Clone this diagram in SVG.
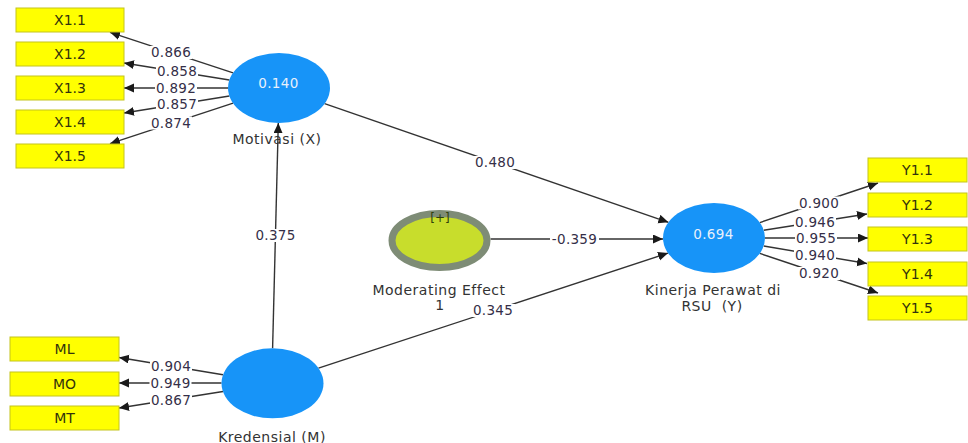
<svg xmlns="http://www.w3.org/2000/svg" width="968" height="443" viewBox="0 0 968 443">
<defs>
<marker id="ah" markerUnits="userSpaceOnUse" markerWidth="11" markerHeight="10" refX="10" refY="4.5" orient="auto">
<path d="M0,0 L10,4.5 L0,9 z" fill="#1a1a1a"/>
</marker>
<style>
.ln{stroke:#333333;stroke-width:1.4;fill:none;marker-end:url(#ah)}
.bx{fill:#ffff00;stroke:#c4c41c;stroke-width:1}
.bt{font-family:"DejaVu Sans",sans-serif;font-size:14px;fill:#33330c;text-anchor:middle}
.lv{fill:#1794f8}
.vt{font-family:"DejaVu Sans",sans-serif;font-size:13.5px;fill:#e8f0fb;text-anchor:middle;letter-spacing:0.4px}
.lb{font-family:"DejaVu Sans",sans-serif;font-size:14px;fill:#333333;text-anchor:middle;letter-spacing:0.5px}
.nb{fill:#ffffff}
.nt{font-family:"DejaVu Sans",sans-serif;font-size:13.5px;fill:#352f48;text-anchor:middle;letter-spacing:0.3px}
</style>
</defs>
<rect x="0" y="0" width="968" height="443" fill="#ffffff"/>

<g id="connectors">
<line class="ln" x1="233.1" y1="72.8" x2="110" y2="32.3"/>
<line class="ln" x1="229.4" y1="80" x2="124" y2="63"/>
<line class="ln" x1="228" y1="88" x2="124" y2="88"/>
<line class="ln" x1="229.4" y1="96" x2="124" y2="113"/>
<line class="ln" x1="233.1" y1="103.2" x2="110" y2="143.7"/>
<line class="ln" x1="759.8" y1="222.6" x2="878" y2="183"/>
<line class="ln" x1="763.7" y1="230.2" x2="867" y2="214"/>
<line class="ln" x1="765" y1="238" x2="868" y2="238"/>
<line class="ln" x1="763.7" y1="246" x2="867" y2="263.5"/>
<line class="ln" x1="759.8" y1="253.4" x2="878" y2="293"/>
<line class="ln" x1="223" y1="374.8" x2="119" y2="357.5"/>
<line class="ln" x1="221.5" y1="383" x2="119" y2="383"/>
<line class="ln" x1="223" y1="391.5" x2="119" y2="408"/>
<line class="ln" x1="324.6" y1="103.7" x2="668.4" y2="222.3"/>
<line class="ln" x1="318.5" y1="368.2" x2="668" y2="253.1"/>
<line class="ln" x1="272.6" y1="348.3" x2="278.3" y2="123"/>
<line class="ln" x1="490.5" y1="239" x2="663" y2="239"/>
<g id="connector-labels">
<rect class="nb" x="150" y="46" width="42" height="13"/><text class="nt" x="171" y="57">0.866</text>
<rect class="nb" x="156" y="64.5" width="42" height="13"/><text class="nt" x="177" y="75.5">0.858</text>
<rect class="nb" x="155" y="81.5" width="42" height="13"/><text class="nt" x="176" y="92.5">0.892</text>
<rect class="nb" x="156" y="98" width="42" height="13"/><text class="nt" x="177" y="109">0.857</text>
<rect class="nb" x="150" y="116.5" width="42" height="13"/><text class="nt" x="171" y="127.5">0.874</text>
<rect class="nb" x="798" y="196.5" width="42" height="13"/><text class="nt" x="819" y="207.5">0.900</text>
<rect class="nb" x="794" y="216" width="42" height="13"/><text class="nt" x="815" y="227">0.946</text>
<rect class="nb" x="795" y="232" width="42" height="13"/><text class="nt" x="816" y="243">0.955</text>
<rect class="nb" x="794" y="248.5" width="42" height="13"/><text class="nt" x="815" y="259.5">0.940</text>
<rect class="nb" x="798" y="267" width="42" height="13"/><text class="nt" x="819" y="278">0.920</text>
<rect class="nb" x="150" y="360" width="42" height="13"/><text class="nt" x="171" y="371">0.904</text>
<rect class="nb" x="149.5" y="376.5" width="42" height="13"/><text class="nt" x="170.5" y="387.5">0.949</text>
<rect class="nb" x="150" y="393.5" width="42" height="13"/><text class="nt" x="171" y="404.5">0.867</text>
<rect class="nb" x="473" y="156" width="44" height="13"/><text class="nt" x="495" y="167">0.480</text>
<rect class="nb" x="471" y="304" width="44" height="13"/><text class="nt" x="493" y="315">0.345</text>
<rect class="nb" x="253.5" y="229" width="44" height="13"/><text class="nt" x="275.5" y="240">0.375</text>
<rect class="nb" x="550" y="232.5" width="49" height="13"/><text class="nt" x="574.5" y="243.5">-0.359</text>
</g>
</g>

<g id="X1.1"><rect class="bx" x="16" y="8" width="108" height="24"/><text class="bt" x="70" y="25">X1.1</text></g>
<g id="X1.2"><rect class="bx" x="16" y="42" width="108" height="24"/><text class="bt" x="70" y="59">X1.2</text></g>
<g id="X1.3"><rect class="bx" x="16" y="76" width="108" height="24"/><text class="bt" x="70" y="93">X1.3</text></g>
<g id="X1.4"><rect class="bx" x="16" y="110" width="108" height="24"/><text class="bt" x="70" y="127">X1.4</text></g>
<g id="X1.5"><rect class="bx" x="16" y="144" width="108" height="24"/><text class="bt" x="70" y="161">X1.5</text></g>

<g id="Y1.1"><rect class="bx" x="868" y="158" width="99" height="24"/><text class="bt" x="917.5" y="175">Y1.1</text></g>
<g id="Y1.2"><rect class="bx" x="868" y="193" width="99" height="24"/><text class="bt" x="917.5" y="210">Y1.2</text></g>
<g id="Y1.3"><rect class="bx" x="868" y="227" width="99" height="24"/><text class="bt" x="917.5" y="244">Y1.3</text></g>
<g id="Y1.4"><rect class="bx" x="868" y="262" width="99" height="24"/><text class="bt" x="917.5" y="279">Y1.4</text></g>
<g id="Y1.5"><rect class="bx" x="868" y="296" width="99" height="24"/><text class="bt" x="917.5" y="313">Y1.5</text></g>

<g id="ML"><rect class="bx" x="10" y="337" width="109" height="24"/><text class="bt" x="64.5" y="354">ML</text></g>
<g id="MO"><rect class="bx" x="10" y="372" width="109" height="24"/><text class="bt" x="64.5" y="389">MO</text></g>
<g id="MT"><rect class="bx" x="10" y="406" width="109" height="24"/><text class="bt" x="64.5" y="423">MT</text></g>

<g id="motivasi">
<ellipse class="lv" cx="279" cy="88" rx="51" ry="35"/>
<text class="vt" x="278.5" y="87.5">0.140</text>
<text class="lb" x="277" y="143.5">Motivasi (X)</text>
</g>

<g id="kredensial">
<ellipse class="lv" cx="272.5" cy="383.3" rx="51" ry="35"/>
<text class="lb" x="272" y="441.5">Kredensial (M)</text>
</g>

<g id="kinerja">
<ellipse class="lv" cx="714" cy="238" rx="51" ry="35"/>
<text class="vt" x="713.5" y="239">0.694</text>
<text class="lb" x="713" y="295">Kinerja Perawat di</text>
<text class="lb" x="712" y="311" xml:space="preserve">RSU  (Y)</text>
</g>

<g id="moderating">
<ellipse cx="439.5" cy="240.5" rx="47.5" ry="27" fill="#c8dd2c" stroke="#7e8c76" stroke-width="7"/>
<text x="440" y="222" font-family="DejaVu Sans, sans-serif" font-size="12" fill="#2f3f0c" text-anchor="middle">[+]</text>
<text class="lb" x="439" y="295">Moderating Effect</text>
<text class="lb" x="440" y="309.5">1</text>
</g>
</svg>
